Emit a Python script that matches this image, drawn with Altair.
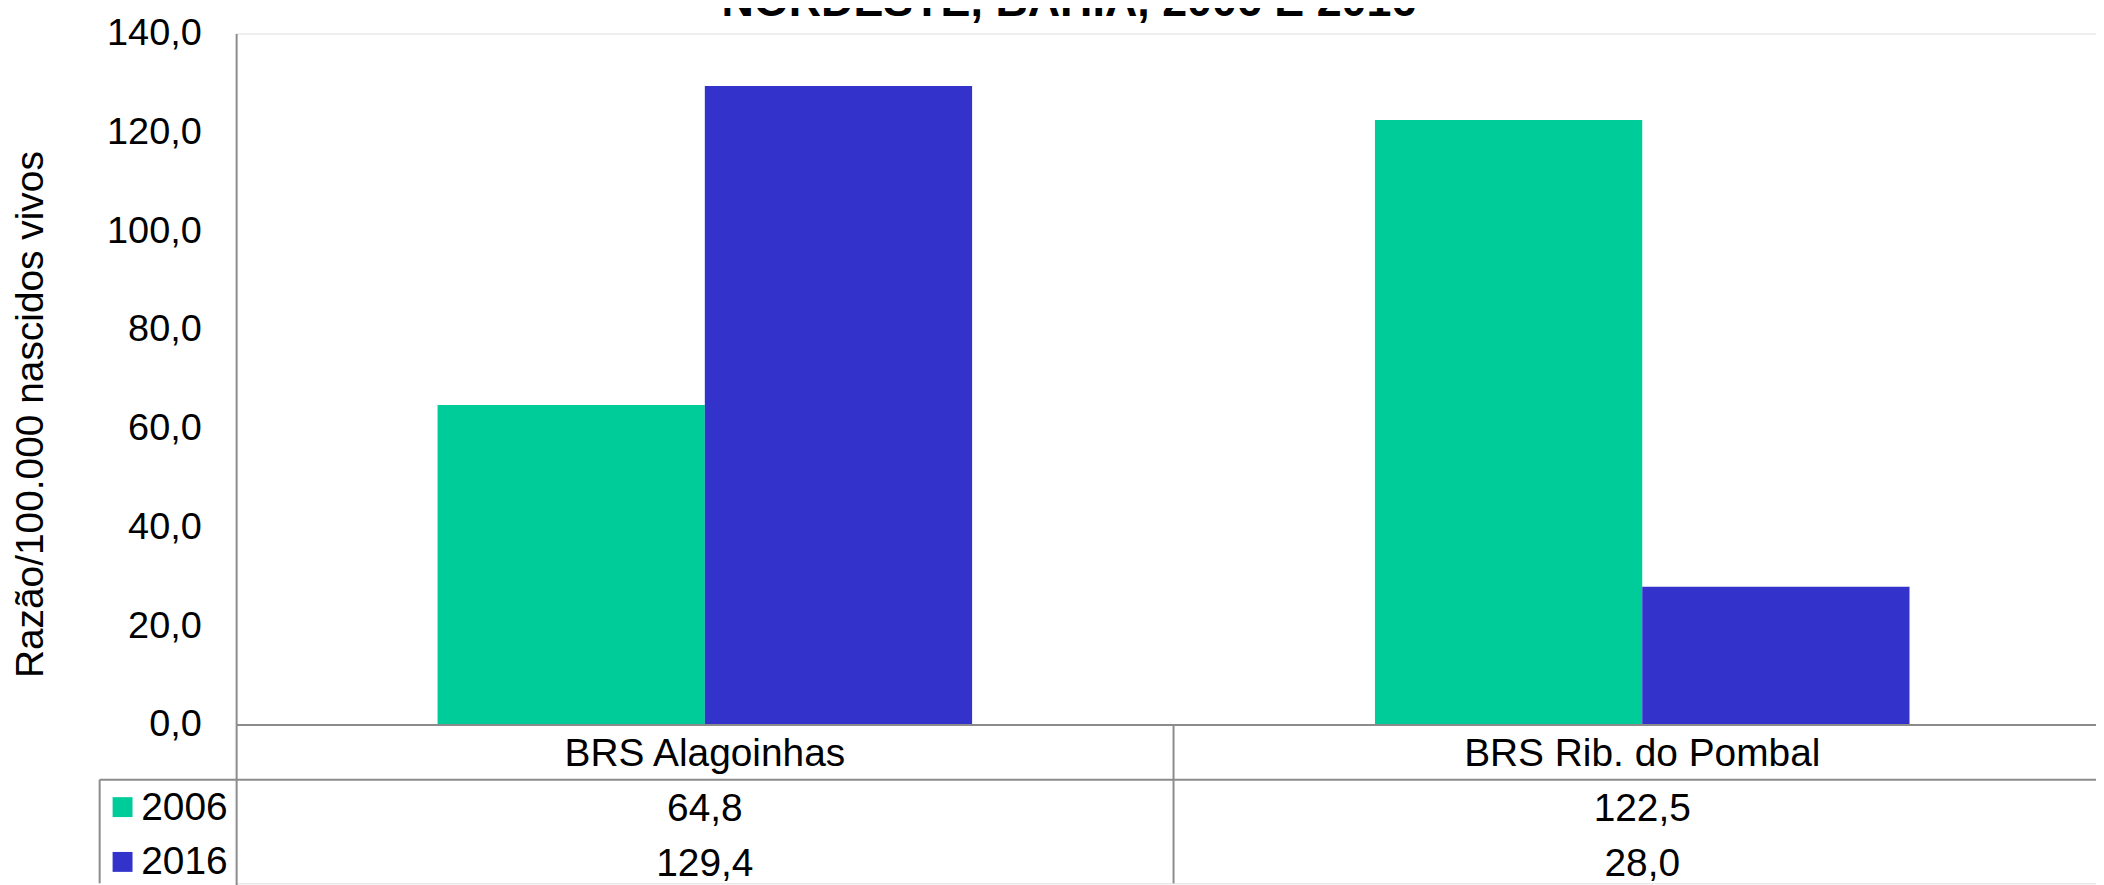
import altair as alt
import pandas as pd

# ---------------- data ----------------
categorias = ["BRS Alagoinhas", "BRS Rib. do Pombal"]
anos = ["2006", "2016"]
valores_2006 = [64.8, 122.5]
valores_2016 = [129.4, 28.0]
y_ticks = [0, 20, 40, 60, 80, 100, 120, 140]
titulo = "NORDESTE, BAHIA, 2006 E 2016"
y_titulo = "Razão/100.000 nascidos vivos"
cores = ["#00CC99", "#3333CC"]

# ---------------- layout constants ----------------
W = 1867          # plot width (clipped at window edge)
H = 853           # plot height incl. table
BAR_H = 694       # pixel height of the bar region
STEP_X = 941      # category band step
ROW_STEP = 55     # table row height
GRAY = "#8c8c8c"
FONT = "Liberation Sans"


def fmt(v):
    return f"{v:.1f}".replace(".", ",")


rows = []
for i, c in enumerate(categorias):
    rows.append({"categoria": c, "ano": "2006", "valor": valores_2006[i]})
    rows.append({"categoria": c, "ano": "2016", "valor": valores_2016[i]})
df = pd.DataFrame(rows)

tab = []
for i, c in enumerate(categorias):
    tab.append({"categoria": c, "linha": "cat", "texto": c})
    tab.append({"categoria": c, "linha": "2006", "texto": fmt(valores_2006[i])})
    tab.append({"categoria": c, "linha": "2016", "texto": fmt(valores_2016[i])})
df_tab = pd.DataFrame(tab)
df_leg = pd.DataFrame({"linha": anos})
dummy = pd.DataFrame({"d": [0]})
zero_df = pd.DataFrame({"valor": [0]})
title_df = pd.DataFrame({"t": [titulo]})

linhas = ["cat", "2006", "2016"]

x_scale = alt.Scale(domain=categorias, range=[0, 2 * STEP_X], paddingInner=0, paddingOuter=0)
y_bar_scale = alt.Scale(domain=[0, 140], range=[BAR_H, 0], nice=False, zero=True)
row_scale = alt.Scale(domain=linhas, range=[BAR_H, BAR_H + 3 * ROW_STEP], paddingInner=0, paddingOuter=0)
color_scale = alt.Scale(domain=anos, range=cores)

y_axis = alt.Axis(
    values=y_ticks,
    labelExpr="replace(format(datum.value, '.1f'), '.', ',')",
    labelFontSize=38, labelColor="black", labelPadding=35, labelFont=FONT,
    ticks=False, grid=False, domainColor=GRAY, domainWidth=2,
    title=y_titulo, titleFontSize=39, titleFontWeight="normal", titleColor="black",
    titleFont=FONT, titleX=-206, titleY=382, titleAngle=270,
    titleAlign="center", titleBaseline="middle",
)

row_axis = alt.Axis(
    orient="left", title=None, labelFontSize=39, labelColor="black", labelFont=FONT,
    labelPadding=9, ticks=False, grid=False, domainColor=GRAY, domainWidth=2,
    labelExpr="datum.value == 'cat' ? '' : datum.value",
)

bars = alt.Chart(df).mark_bar().encode(
    x=alt.X("categoria:N", scale=x_scale, axis=None, sort=categorias),
    xOffset=alt.XOffset("ano:N", scale=alt.Scale(domain=anos, paddingInner=0, paddingOuter=0.7537)),
    y=alt.Y("valor:Q", scale=y_bar_scale, axis=y_axis),
    color=alt.Color("ano:N", scale=color_scale, legend=None),
)

zero_line = alt.Chart(zero_df).mark_rule(color=GRAY, strokeWidth=2).encode(
    y=alt.Y("valor:Q", scale=y_bar_scale, axis=y_axis),
    x=alt.value(0),
    x2=alt.value(W),
)

bar_group = alt.layer(bars, zero_line)

texts = alt.Chart(df_tab).mark_text(fontSize=39, font=FONT, color="black", baseline="middle", dy=2).encode(
    x=alt.X("categoria:N", scale=x_scale, axis=None, sort=categorias),
    y=alt.Y("linha:N", scale=row_scale, sort=linhas, axis=row_axis),
    text="texto:N",
)

squares = alt.Chart(df_leg).mark_point(shape="square", filled=True, size=400, opacity=1).encode(
    x=alt.value(-114),
    y=alt.Y("linha:N", scale=row_scale, sort=linhas, axis=row_axis),
    color=alt.Color("linha:N", scale=color_scale, legend=None),
)

hline = alt.Chart(dummy).mark_rule(color=GRAY, strokeWidth=2).encode(
    x=alt.value(-137), x2=alt.value(W), y=alt.value(BAR_H + ROW_STEP)
)
vdiv = alt.Chart(dummy).mark_rule(color=GRAY, strokeWidth=2).encode(
    x=alt.value(STEP_X), y=alt.value(BAR_H), y2=alt.value(H)
)
vleft = alt.Chart(dummy).mark_rule(color=GRAY, strokeWidth=2).encode(
    x=alt.value(-137), y=alt.value(BAR_H + ROW_STEP), y2=alt.value(H)
)

# chart title (top of it is cropped in the reference)
title_mark = alt.Chart(title_df).mark_text(
    fontSize=45, fontWeight="bold", font=FONT, color="black",
    align="center", baseline="alphabetic",
).encode(x=alt.value(836), y=alt.value(-18), text="t:N")

table_group = alt.layer(texts, squares, hline, vdiv, vleft, title_mark)

chart = (
    alt.layer(bar_group, table_group)
    .resolve_scale(y="independent")
    .properties(
        width=W,
        height=H,
        autosize=alt.AutoSizeParams(type="none"),
        padding={"left": 229, "top": 24, "right": 0, "bottom": 0},
        background="white",
    )
    .configure_view(stroke="transparent")
    .configure(font=FONT)
)

chart.save("out.html", embed_options={"renderer": "svg", "actions": False})
